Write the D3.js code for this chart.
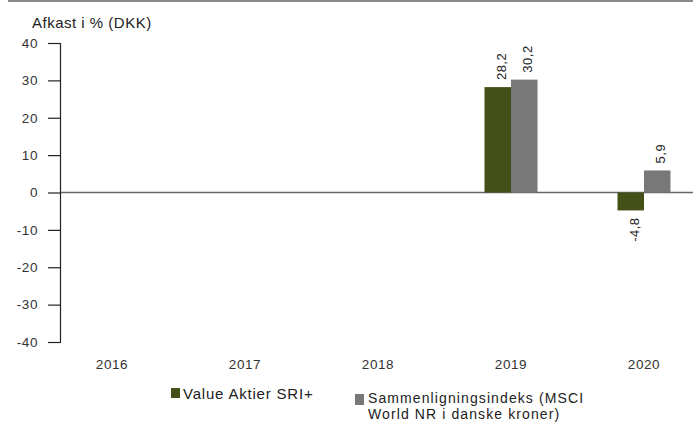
<!DOCTYPE html>
<html>
<head>
<meta charset="utf-8">
<script src="https://cdn.jsdelivr.net/npm/d3@7"></script>
<style>
  body { margin: 0; background: #fff; }
  svg { display: block; font-family: "Liberation Sans", Arial, sans-serif; }
</style>
</head>
<body>
<div id="chart"></div>
<script>
const years = ["2016", "2017", "2018", "2019", "2020"];
const fundValues = [null, null, null, 28.2, -4.8];
const indexValues = [null, null, null, 30.2, 5.9];
const yTicks = [40, 30, 20, 10, 0, -10, -20, -30, -40];
const seriesNames = ["Value Aktier SRI+", "Sammenligningsindeks (MSCI World NR i danske kroner)"];

const W = 693, H = 423;
const colors = ["#435119", "#787878"];

const svg = d3.select("#chart").append("svg")
  .attr("width", W)
  .attr("height", H);

// top rule
svg.append("line")
  .attr("x1", 8).attr("x2", W)
  .attr("y1", 1).attr("y2", 1)
  .attr("stroke", "#8a8a8a")
  .attr("stroke-width", 2);

svg.append("text")
  .attr("x", 32).attr("y", 28)
  .attr("font-size", 15)
  .attr("letter-spacing", 0.5)
  .attr("fill", "#222")
  .text("Afkast i % (DKK)");

const y = d3.scaleLinear().domain([-40, 40]).range([342, 43]);
const x = d3.scaleBand().domain(years).range([45.5, 710.5]);
const xs = d3.scaleBand().domain([0, 1]).range([0, 53]);

// zero line
svg.append("line")
  .attr("x1", 60).attr("x2", W)
  .attr("y1", y(0)).attr("y2", y(0))
  .attr("stroke", "#666")
  .attr("stroke-width", 1.5);

const yAxis = svg.append("g")
  .attr("transform", "translate(60,0)")
  .call(d3.axisLeft(y).tickValues(yTicks).tickSize(12).tickPadding(10).tickFormat(d => d));
yAxis.select(".domain").attr("stroke", "#222").attr("stroke-width", 1.2);
yAxis.selectAll(".tick line").attr("stroke", "#222").attr("stroke-width", 1.2);
yAxis.selectAll(".tick text")
  .attr("font-size", 13.5)
  .attr("letter-spacing", 0.6)
  .attr("fill", "#333")
  .attr("font-family", "Liberation Sans, Arial, sans-serif");

// x labels
svg.append("g").selectAll("text")
  .data(years)
  .join("text")
  .attr("x", d => x(d) + x.bandwidth() / 2)
  .attr("y", 369)
  .attr("text-anchor", "middle")
  .attr("font-size", 13.5)
  .attr("letter-spacing", 0.6)
  .attr("fill", "#333")
  .text(d => d);

const series = [fundValues, indexValues];
const fmt = v => String(v).replace(".", ",");

series.forEach((vals, si) => {
  const pts = years.map((yr, i) => ({ yr, v: vals[i] })).filter(d => d.v !== null);
  const bx = d => x(d.yr) + x.bandwidth() / 2 - 26.5 + xs(si);

  svg.append("g").selectAll("rect")
    .data(pts)
    .join("rect")
    .attr("x", bx)
    .attr("width", xs.bandwidth())
    .attr("y", d => y(Math.max(0, d.v)))
    .attr("height", d => Math.abs(y(d.v) - y(0)))
    .attr("fill", colors[si]);

  svg.append("g").selectAll("text")
    .data(pts)
    .join("text")
    .attr("transform", d => {
      const cx = bx(d) + xs.bandwidth() / 2 + 8;
      const cy = d.v >= 0 ? y(d.v) - 7 : y(d.v) + 7;
      return `translate(${cx},${cy}) rotate(-90)`;
    })
    .attr("text-anchor", d => d.v >= 0 ? "start" : "end")
    .attr("font-size", 13)
    .attr("letter-spacing", 0.5)
    .attr("fill", "#222")
    .text(d => fmt(d.v));
});

// legend
const leg1 = svg.append("g").attr("transform", "translate(171,388)");
leg1.append("rect").attr("width", 9).attr("height", 10).attr("fill", colors[0]);
leg1.append("text").attr("x", 12).attr("y", 11).attr("font-size", 15)
  .attr("letter-spacing", 0.8).attr("fill", "#222").text(seriesNames[0]);

const leg2 = svg.append("g").attr("transform", "translate(355,394)");
leg2.append("rect").attr("width", 9).attr("height", 11).attr("fill", colors[1]);
const t2 = leg2.append("text").attr("font-size", 14).attr("letter-spacing", 1.1).attr("fill", "#222");
t2.append("tspan").attr("x", 13).attr("y", 9).text("Sammenligningsindeks (MSCI");
t2.append("tspan").attr("x", 13).attr("y", 24.5).text("World NR i danske kroner)");
</script>
</body>
</html>
